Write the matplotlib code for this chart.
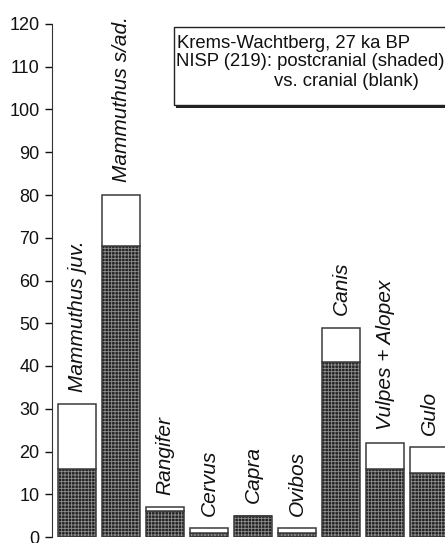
import matplotlib
matplotlib.use("Agg")
import matplotlib.pyplot as plt
from matplotlib.patches import Rectangle
import numpy as np

plt.rcParams['font.family'] = ['Liberation Sans', 'DejaVu Sans']
plt.rcParams['hatch.linewidth'] = 0.6

taxa = ["Mammuthus juv.", "Mammuthus s/ad.", "Rangifer", "Cervus", "Capra",
        "Ovibos", "Canis", "Vulpes + Alopex", "Gulo"]
postcranial = [16, 68, 6, 1, 5, 1, 41, 16, 15]
cranial = [15, 12, 1, 1, 0, 1, 8, 6, 6]
yticks = [0, 10, 20, 30, 40, 50, 60, 70, 80, 90, 100, 110, 120]

W, H = 445, 543
fig = plt.figure(figsize=(W / 100, H / 100), dpi=100)
ax = fig.add_axes([52 / W, 6 / H, (445 - 52) / W, (537 - 24) / H])

x = np.arange(len(taxa))
post = np.array(postcranial)
cran = np.array(cranial)
total = post + cran
bw = 0.86

# shaded (postcranial) part: dark fill with light checker hatch
ax.bar(x, post, width=bw, color='#222222', edgecolor='#8f8f8f', hatch='+++++',
       linewidth=0, zorder=2)
ax.bar(x, post, width=bw, fill=False, edgecolor='#3a3a3a', linewidth=1.1, zorder=3)
# blank (cranial) part
ax.bar(x, cran, bottom=post, width=bw, color='white', edgecolor='#3a3a3a',
       linewidth=1.1, zorder=3)

for xi, t, name in zip(x, total, taxa):
    ax.annotate(name, (xi, t), xytext=(0, 9), textcoords='offset points',
                rotation=90, ha='center', va='bottom', fontsize=15,
                style='italic', color='#111111')

ax.set_xlim(-0.57, 8.36)
ax.set_ylim(0, 120)
ax.set_yticks(yticks)
ax.tick_params(axis='y', labelsize=13, length=5, width=1, pad=4, colors='#111111')
ax.set_xticks([])
for s in ['top', 'right', 'bottom']:
    ax.spines[s].set_visible(False)
ax.spines['left'].set_color('#333333')
ax.patch.set_alpha(0)

# legend-style box in figure pixel coordinates
def fx(px):
    return px / W

def fy(py):
    return 1 - py / H

shadow = Rectangle((fx(175.5), fy(107.5)), fx(300), (107.5 - 29.5) / H,
                   transform=fig.transFigure, facecolor='#222222', edgecolor='none',
                   zorder=5)
box = Rectangle((fx(173.5), fy(105)), fx(300), (105 - 27) / H,
                transform=fig.transFigure, facecolor='white', edgecolor='#222222',
                linewidth=1.0, zorder=6)
fig.patches.extend([shadow, box])
fig.text(fx(177), fy(43.5), "Krems-Wachtberg, 27 ka BP", fontsize=13.3,
         va='center', ha='left', zorder=7, color='#111111')
fig.text(fx(175.5), fy(62), "NISP (219): postcranial (shaded)", fontsize=13.3,
         va='center', ha='left', zorder=7, color='#111111')
fig.text(fx(274), fy(81.5), "vs. cranial (blank)", fontsize=13.3,
         va='center', ha='left', zorder=7, color='#111111')

fig.savefig("out.png", dpi=100)
